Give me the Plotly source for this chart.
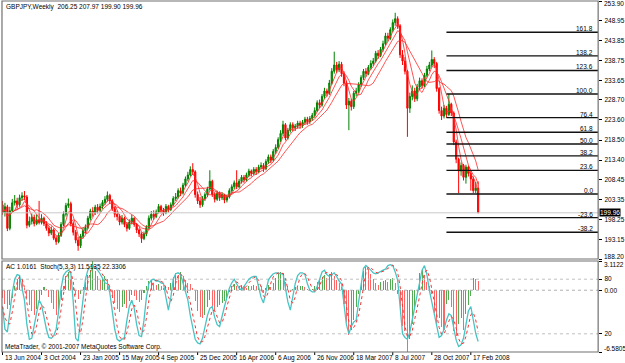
import pandas as pd
import plotly.graph_objects as go

# ---------------- data ----------------
first_open = 202.0
closes = [
    200.0, 201.5, 196.0, 200.5, 202.5, 203.0, 202.0, 203.8, 204.3, 204.0,
    196.8, 197.8, 198.8, 197.2, 198.2, 197.5, 198.6, 197.2, 196.0, 194.8,
    195.6, 193.5, 192.6, 194.2, 197.0, 199.6, 201.8, 202.3, 197.2, 195.0,
    193.0, 191.6, 194.0, 195.4, 196.2, 198.6, 200.4, 200.0, 201.4, 200.6,
    201.6, 202.6, 203.4, 204.4, 203.0, 201.0, 199.6, 199.0, 197.6, 198.6,
    197.0, 196.0, 197.6, 198.6, 197.0, 195.6, 194.6, 193.4, 194.6, 196.2,
    198.6, 199.6, 199.0, 200.2, 201.6, 200.6, 200.0, 201.6, 200.8, 202.0,
    203.6, 204.0, 205.6, 205.0, 207.0, 208.6, 209.6, 211.0, 210.4, 204.6,
    203.0, 202.0, 203.6, 204.6, 206.0, 208.0, 204.6, 203.4, 205.0, 203.8,
    204.6, 203.2, 204.0, 205.6, 206.6, 207.6, 206.6, 208.0, 209.0, 208.4,
    209.6, 210.6, 210.0, 211.0, 210.4, 211.6, 212.0, 211.2, 213.0, 214.2,
    213.4, 215.6, 216.6, 218.6, 220.2, 222.4, 219.0, 221.0, 222.4, 221.6,
    222.0, 222.8, 222.2, 223.0, 223.8, 223.2, 224.0, 224.8, 226.0, 228.0,
    227.4, 229.6, 231.0, 230.4, 233.0, 236.0, 237.6, 236.4, 237.8, 235.4,
    233.0, 227.4, 228.4, 227.0, 230.4, 231.0, 232.6, 234.4, 236.0, 235.4,
    237.0, 238.0, 238.6, 240.6, 240.0, 241.6, 243.0, 245.0, 244.4, 246.6,
    248.4, 249.4, 247.6, 240.2, 238.6, 236.0, 226.6, 229.6, 231.0, 229.0,
    232.0, 233.6, 232.4, 235.0, 236.6, 237.6, 239.0, 238.0, 231.6, 226.0,
    224.6, 226.6, 225.0, 227.6, 225.4, 218.0, 213.6, 210.6, 212.0, 209.0,
    211.6, 210.0, 208.6, 205.6, 206.25, 199.96,
]
highs = [
    203.0, 202.5, 202.0, 201.5, 203.5, 204.5, 203.8, 204.6, 205.2, 205.5,
    204.5, 199.0, 199.8, 199.5, 199.5, 203.0, 199.6, 199.0, 197.8, 196.5,
    196.5, 196.0, 194.0, 194.8, 197.6, 200.3, 202.5, 203.6, 202.8, 197.8,
    195.6, 193.8, 194.6, 196.2, 197.0, 199.2, 201.0, 201.4, 202.0, 202.2,
    202.3, 203.2, 204.2, 205.4, 204.8, 203.4, 201.6, 200.5, 199.6, 199.4,
    199.0, 197.6, 198.3, 199.4, 198.8, 197.4, 196.0, 195.0, 195.2, 196.8,
    199.3, 200.4, 200.6, 200.8, 202.2, 202.0, 201.2, 202.2, 202.0, 202.6,
    204.2, 205.0, 206.2, 206.4, 207.6, 209.2, 210.4, 211.8, 212.6, 210.8,
    205.4, 204.0, 204.2, 205.2, 206.6, 210.8, 208.4, 205.2, 205.6, 205.4,
    205.2, 204.8, 204.6, 206.2, 207.2, 208.2, 210.8, 208.6, 209.6, 209.6,
    210.2, 211.2, 211.0, 211.6, 211.6, 212.2, 212.8, 212.6, 213.6, 214.8,
    214.8, 216.2, 217.4, 219.2, 221.0, 223.4, 222.8, 221.6, 223.0, 223.0,
    222.6, 223.4, 223.4, 223.6, 224.4, 224.4, 224.6, 225.4, 226.8, 228.6,
    228.8, 230.2, 231.8, 231.6, 233.8, 236.8, 241.0, 238.4, 238.6, 238.4,
    236.0, 233.6, 229.2, 229.0, 231.0, 231.8, 233.2, 235.0, 236.6, 236.8,
    237.6, 238.8, 239.4, 241.2, 241.4, 242.2, 243.8, 245.8, 245.8, 247.2,
    249.2, 250.9, 250.0, 248.0, 241.4, 239.6, 236.4, 230.6, 232.4, 231.8,
    232.8, 234.4, 234.2, 235.6, 237.4, 238.4, 241.3, 239.6, 238.4, 232.0,
    227.0, 227.4, 227.2, 230.2, 228.0, 225.8, 218.6, 214.0, 212.8, 212.4,
    212.2, 212.0, 210.6, 209.2, 207.8, 207.97,
]
lows = [
    199.5, 199.0, 195.3, 195.5, 200.0, 201.8, 201.0, 201.5, 203.0, 203.2,
    196.0, 196.3, 197.0, 196.5, 196.8, 197.0, 197.0, 196.6, 195.4, 194.0,
    194.3, 193.0, 191.8, 192.2, 193.8, 196.5, 199.0, 201.2, 196.5, 194.2,
    192.2, 190.3, 191.0, 193.4, 194.8, 195.8, 198.0, 199.0, 199.4, 199.8,
    200.0, 201.0, 202.0, 202.8, 202.2, 200.4, 198.8, 198.0, 196.8, 197.0,
    196.3, 195.2, 195.6, 197.0, 196.4, 194.8, 193.8, 192.3, 193.0, 194.0,
    195.8, 198.0, 198.2, 198.6, 199.8, 199.8, 199.2, 199.6, 200.0, 200.4,
    201.6, 203.0, 203.6, 204.2, 204.6, 206.6, 208.0, 209.2, 209.6, 203.8,
    202.2, 201.2, 201.5, 203.0, 204.0, 205.6, 204.0, 202.6, 203.0, 203.0,
    203.2, 202.4, 202.6, 203.6, 205.0, 206.0, 206.0, 206.2, 207.4, 207.6,
    208.0, 209.0, 209.2, 209.6, 209.6, 210.0, 211.0, 210.4, 210.8, 212.4,
    212.6, 213.0, 215.0, 216.2, 218.0, 219.6, 218.4, 218.6, 220.4, 220.8,
    220.8, 221.4, 221.4, 221.6, 222.4, 222.4, 222.6, 223.4, 224.2, 225.6,
    226.6, 227.0, 229.0, 229.6, 230.0, 232.6, 235.4, 235.6, 235.8, 234.6,
    232.2, 226.4, 221.0, 226.0, 226.4, 229.6, 230.4, 232.0, 233.8, 234.6,
    235.0, 236.4, 237.4, 238.2, 239.2, 239.6, 241.0, 242.6, 243.6, 244.0,
    246.0, 247.6, 246.8, 239.4, 237.6, 235.2, 219.3, 225.4, 228.6, 228.2,
    228.4, 231.2, 231.6, 232.0, 234.4, 236.0, 237.0, 236.8, 230.8, 225.2,
    223.6, 224.0, 224.2, 224.6, 224.6, 217.2, 212.6, 205.0, 209.4, 208.2,
    207.4, 209.2, 205.6, 205.0, 205.0, 199.90,
]
ac_values = [
    -0.8, -1.5, -2.0, -1.6, -0.8, 0.4, 1.2, 1.5, 1.1, 0.2,
    -0.8, -1.6, -2.2, -2.6, -2.0, -1.2, -0.5, 0.3, 0.1, -0.7,
    -1.4, -2.0, -2.6, -2.1, -1.0, 0.4, 1.5, 1.9, 1.2, 0.3,
    -0.5, -0.9, -0.4, 0.3, 0.9, 1.6, 2.2, 3.11, 2.0, 1.5,
    1.1, 1.3, 1.5, 1.2, 0.4, -0.6, -1.4, -2.0, -2.3, -1.8,
    -1.5, -1.9, -1.2, -0.5, -0.6, -1.0, -1.3, -1.0, -0.3, 0.5,
    1.0, 1.1, 0.8, 0.6, 0.7, 0.4, 0.2, 0.5, 0.3, 0.8,
    1.4, 1.8, 1.6, 1.9, 1.5, 1.1, 0.8, 0.7, 0.2, -1.2,
    -2.2, -2.8, -3.0, -2.6, -1.8, -1.0, -1.7, -2.2, -1.8, -1.6,
    -1.4, -1.2, -0.8, -0.2, 0.5, 0.7, 0.4, 0.5, 0.6, 0.4,
    0.2, 0.5, 0.4, 0.6, 0.5, 0.7, 0.4, -0.3, 0.2, 0.6,
    0.3, 0.8, 1.3, 1.7, 1.9, 1.8, 0.9, 0.4, -0.2, 0.1,
    0.3, 0.2, 0.4, 0.5, 0.3, 0.1, -0.1, 0.1, 0.5, 0.9,
    1.1, 1.4, 1.6, 1.3, 1.7, 1.9, 1.5, 1.1, 0.8, 0.3,
    -1.5, -3.4, -4.8, -4.2, -3.2, -1.8, -0.4, 1.0, 2.0, 2.5,
    2.3, 1.7, 1.2, 0.8, 0.6, 0.9, 1.0, 1.1, 0.9, 1.2,
    1.3, 0.8, -0.4, -2.5, -3.8, -4.3, -6.58, -5.2, -3.6, -2.0,
    -0.2, 1.8, 2.2, 1.6, 0.9, 0.4, -0.4, -2.4, -3.6, -3.0,
    -3.9, -4.2, -1.5, -1.0, -1.8, -4.3, -4.9, -3.6, -3.0, -4.2,
    -2.5, -1.6, -0.6, 1.3, 1.2, 1.0161,
]
stoch_main = [
    50, 25, 22, 45, 65, 80, 85, 84, 72, 57,
    30, 14, 15, 28, 45, 57, 52, 38, 25, 16,
    15, 18, 25, 45, 70, 84, 88, 90, 87, 55,
    15, 12, 35, 60, 80, 90, 94, 95, 93, 90,
    86, 80, 76, 75, 65, 45, 25, 14, 12, 14,
    16, 35, 50, 57, 48, 30, 18, 17, 35, 60,
    75, 79, 80, 78, 78, 76, 75, 60, 46, 60,
    80, 86, 87, 85, 75, 65, 57, 40, 25, 14,
    10, 9, 15, 28, 40, 48, 50, 38, 30, 28,
    40, 50, 60, 70, 76, 80, 75, 70, 68, 72,
    76, 80, 82, 83, 83, 70, 60, 54, 65, 79,
    83, 86, 87, 87, 86, 86, 70, 55, 46, 60,
    75, 84, 87, 87, 85, 75, 68, 66, 66, 72,
    80, 88, 90, 85, 83, 85, 87, 83, 78, 75,
    50, 30, 20, 28, 33, 35, 55, 75, 92, 95,
    93, 90, 87, 86, 87, 89, 90, 91, 95, 96,
    95, 88, 79, 50, 20, 16, 14, 22, 35, 48,
    60, 75, 90, 95, 85, 68, 55, 40, 25, 16,
    18, 25, 35, 42, 40, 25, 13, 6, 8, 15,
    28, 45, 50, 35, 20.5, 11.5135,
]
ma_periods = [4, 7, 12]
fib_levels = [161.8, 138.2, 123.6, 100.0, 76.4, 61.8, 50.0, 38.2, 23.6, 0.0, -23.6, -38.2]
fib_high = 230.2
fib_low = 204.75
fib_start_index = 182
price_ticks = ["253.90", "248.95", "243.85", "238.75", "233.65", "228.70", "223.60",
               "218.50", "213.40", "208.45", "203.35", "198.25", "193.15", "188.20"]
date_ticks = ["2004-06-13", "2004-10-03", "2005-01-23", "2005-05-15", "2005-09-04",
              "2005-12-25", "2006-04-16", "2006-08-06", "2006-11-26", "2007-03-18",
              "2007-07-08", "2007-10-28", "2008-02-17"]
date_labels = ["13 Jun 2004", "3 Oct 2004", "23 Jan 2005", "15 May 2005", "4 Sep 2005",
               "25 Dec 2005", "16 Apr 2006", "6 Aug 2006", "26 Nov 2006", "18 Mar 2007",
               "8 Jul 2007", "28 Oct 2007", "17 Feb 2008"]

# ---------------- figure ----------------
W, H = 625, 363
FONT = "Liberation Sans, Arial, sans-serif"
FS = 6.5
dates = pd.date_range("2004-06-13", periods=len(closes), freq="7D")
opens = [first_open] + closes[:-1]
x_start = dates[0] - pd.Timedelta(days=1.5)
x_end = dates[0] + pd.Timedelta(days=7 * 244.2)


def px(x):
    return x / W


def py(y):
    return (H - y) / H


small = dict(family=FONT, size=FS, color="#000")

fig = go.Figure()
fig.add_trace(go.Candlestick(
    x=dates, open=opens, high=highs, low=lows, close=closes,
    increasing=dict(line=dict(color="#008000", width=1), fillcolor="#00a000"),
    decreasing=dict(line=dict(color="#ff0000", width=1), fillcolor="#ff0000"),
    whiskerwidth=0, showlegend=False, xaxis="x", yaxis="y", hoverinfo="skip"))

close_s = pd.Series(closes)
for p in ma_periods:
    ma = close_s.rolling(p, min_periods=1).mean()
    fig.add_trace(go.Scatter(x=dates, y=ma, mode="lines",
                             line=dict(color="rgba(255,40,40,0.8)", width=1),
                             showlegend=False, xaxis="x", yaxis="y", hoverinfo="skip"))

# current price line
fig.add_trace(go.Scatter(x=[x_start, x_end], y=[closes[-1], closes[-1]], mode="lines",
                         line=dict(color="#c8c8c8", width=1), showlegend=False,
                         xaxis="x", yaxis="y", hoverinfo="skip"))

annotations = []
for lvl in fib_levels:
    price = fib_low + (fib_high - fib_low) * lvl / 100.0
    fig.add_trace(go.Scatter(x=[dates[fib_start_index], x_end], y=[price, price], mode="lines",
                             line=dict(color="#111111", width=1.4), showlegend=False,
                             xaxis="x", yaxis="y", hoverinfo="skip"))
    annotations.append(dict(x=px(599), xref="paper", y=price, yref="y", text=f"{lvl:.1f}",
                            showarrow=False, xanchor="right", yanchor="bottom",
                            font=small, yshift=-2))

# AC histogram
ac_colors = []
for i, v in enumerate(ac_values):
    up = i > 0 and v > ac_values[i - 1]
    ac_colors.append("rgba(40,150,40,0.8)" if up else "rgba(255,50,50,0.75)")
fig.add_trace(go.Bar(x=dates, y=ac_values, marker=dict(color=ac_colors, line=dict(width=0)),
                     width=7 * 24 * 3600 * 1000 * 0.42, showlegend=False,
                     xaxis="x2", yaxis="y2", hoverinfo="skip"))
fig.add_trace(go.Scatter(x=[x_start, x_end], y=[0, 0], mode="lines",
                         line=dict(color="#b0b0b0", width=1, dash="dot"), showlegend=False,
                         xaxis="x2", yaxis="y2", hoverinfo="skip"))
# stochastic
stoch_signal = pd.Series(stoch_main).rolling(3, min_periods=1).mean()
for lv in (80, 20):
    fig.add_trace(go.Scatter(x=[x_start, x_end], y=[lv, lv], mode="lines",
                             line=dict(color="#c0c0c0", width=1, dash="dot"), showlegend=False,
                             xaxis="x2", yaxis="y3", hoverinfo="skip"))
fig.add_trace(go.Scatter(x=dates, y=stoch_main, mode="lines",
                         line=dict(color="#48c4c4", width=1.3), showlegend=False,
                         xaxis="x2", yaxis="y3", hoverinfo="skip"))
fig.add_trace(go.Scatter(x=dates, y=stoch_signal, mode="lines",
                         line=dict(color="#ff3030", width=1, dash="dot"), showlegend=False,
                         xaxis="x2", yaxis="y3", hoverinfo="skip"))

# texts
annotations += [
    dict(x=px(4), y=py(7), xref="paper", yref="paper", text="GBPJPY,Weekly  206.25 207.97 199.90 199.96",
         showarrow=False, xanchor="left", yanchor="middle", font=small),
    dict(x=px(4), y=py(267), xref="paper", yref="paper", text="AC 1.0161  Stoch(5,3,3) 11.5135 22.3306",
         showarrow=False, xanchor="left", yanchor="middle", font=small),
    dict(x=px(3), y=py(347), xref="paper", yref="paper",
         text="MetaTrader, © 2001-2007 MetaQuotes Software Corp.",
         showarrow=False, xanchor="left", yanchor="middle", font=small),
    dict(x=px(603), y=closes[-1], xref="paper", yref="y", text=f"{closes[-1]:.2f}",
         showarrow=False, xanchor="left", yanchor="middle", bgcolor="#000",
         font=dict(family=FONT, size=FS, color="#fff"), borderpad=0),
]
# edge labels of the right scales, kept inside their panels
edge_labels = [(price_ticks[0], 3.5), (price_ticks[-1], 256.5), ("3.1122", 264), ("-6.5805", 348.5)]
for txt, ypix in edge_labels:
    annotations.append(dict(x=px(605.5), y=py(ypix), xref="paper", yref="paper", text=txt,
                            showarrow=False, xanchor="left", yanchor="middle", font=small))

shapes = []
for d, lab in zip(date_ticks, date_labels):
    annotations.append(dict(x=pd.Timestamp(d), xref="x2", y=py(357.5), yref="paper", text=lab,
                            showarrow=False, xanchor="left", yanchor="middle", font=small))
    shapes.append(dict(type="line", xref="x2", yref="paper", x0=pd.Timestamp(d), x1=pd.Timestamp(d),
                       y0=py(352), y1=py(355), line=dict(color="#000", width=1)))

shapes += [
    dict(type="rect", xref="paper", yref="paper", x0=px(2), x1=px(602), y0=py(259), y1=py(1),
         line=dict(color="#707070", width=1.2)),
    dict(type="rect", xref="paper", yref="paper", x0=px(2), x1=px(602), y0=py(352), y1=py(261),
         line=dict(color="#707070", width=1.2)),
]

xcommon = dict(domain=[px(2), px(602)], range=[x_start, x_end], showgrid=False, zeroline=False,
               showticklabels=False, ticks="", showline=False, rangeslider=dict(visible=False))
ycommon = dict(side="right", showgrid=False, zeroline=False, ticks="outside", ticklen=3,
               tickcolor="#000", showline=False, tickfont=small, ticklabelstandoff=1)
mid_price_text = [""] + price_ticks[1:-1] + [""]
fig.update_layout(
    width=W, height=H, margin=dict(l=0, r=0, t=0, b=0),
    paper_bgcolor="#ffffff", plot_bgcolor="#ffffff", showlegend=False, bargap=0,
    xaxis=dict(**xcommon, anchor="y"),
    xaxis2=dict(**xcommon, anchor="y2", matches="x"),
    yaxis=dict(**ycommon, domain=[py(259), py(1)], range=[188.2, 253.9], anchor="x",
               tickvals=[float(t) for t in price_ticks], ticktext=mid_price_text),
    yaxis2=dict(**ycommon, domain=[py(352), py(261)], range=[-6.5805, 3.1122], anchor="x2",
                tickvals=[3.1122, 0.0, -6.5805], ticktext=["", "0.00", ""]),
    yaxis3=dict(**ycommon, overlaying="y2", range=[0, 100], anchor="x2",
                tickvals=[80, 20], ticktext=["80", "20"]),
    annotations=annotations, shapes=shapes,
)
fig.write_html("out.html")
